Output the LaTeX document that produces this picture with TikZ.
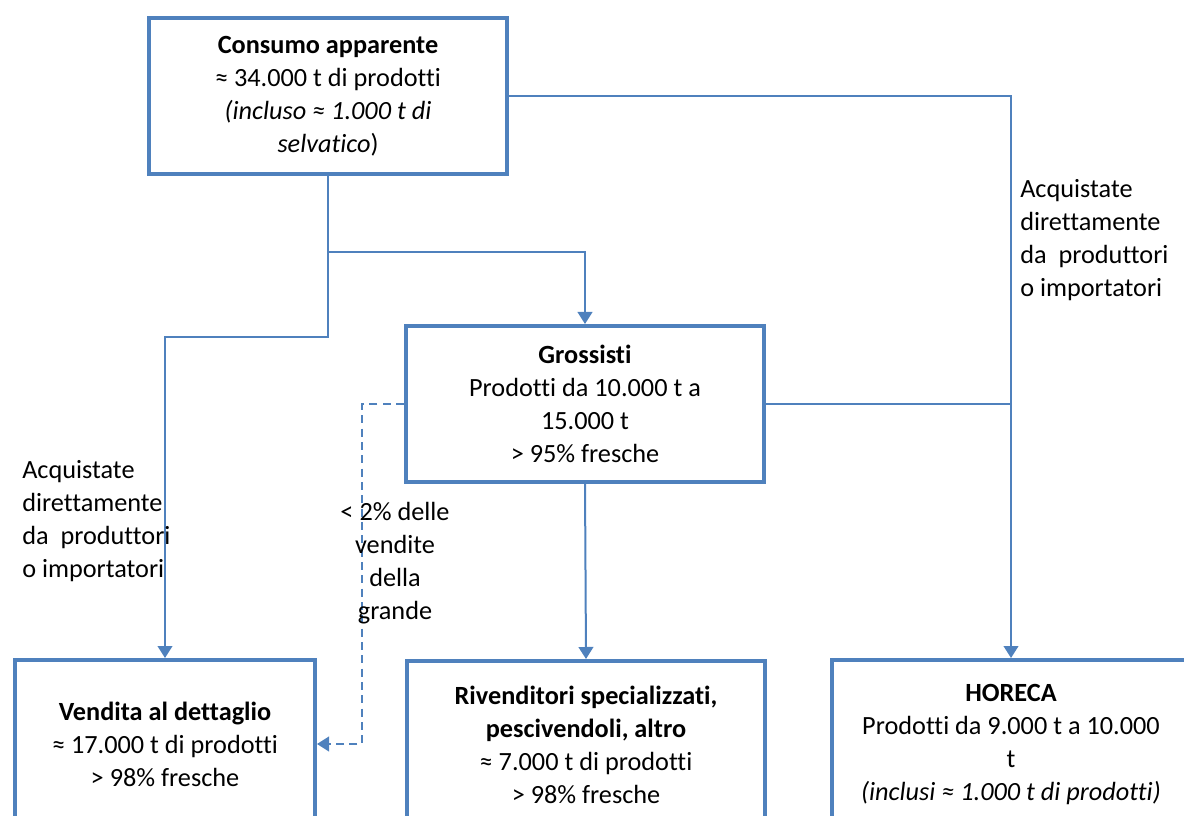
\documentclass[tikz,border=0pt]{standalone}
\usepackage{fontspec}
\setmainfont[Ligatures=NoCommon]{Carlito}
\usetikzlibrary{arrows.meta}
\definecolor{lineColor}{RGB}{79,129,189}
\begin{document}
\begin{tikzpicture}[x=0.75pt,y=-0.75pt,
  font=\fontsize{19.7}{24.75}\selectfont,
  flowbox/.style={draw=lineColor,line width=3pt,fill=white,align=center,inner sep=0pt,
    minimum width=268.5pt},
  link/.style={draw=lineColor,line width=1.5pt},
  arrowlink/.style={link,-{Triangle[length=9pt,width=11pt]}},
  dashlink/.style={arrowlink,dash pattern=on 6pt off 4pt},
  note/.style={align=left,inner sep=0pt,anchor=west}]
\useasboundingbox (0,0) rectangle (1184,816);
\clip (0,0) rectangle (1184,816);

\node[flowbox,minimum height=117pt] (cons) at (328,96) {\textbf{Consumo apparente}\\ ≈ 34.000 t di prodotti\\ \textit{(incluso ≈ 1.000 t di}\\ \textit{selvatico})};

\node[flowbox,minimum height=117pt] (gros) at (585,404) {\textbf{Grossisti}\\ Prodotti da 10.000 t a\\ 15.000 t\\ > 95\% fresche};

\node[flowbox,minimum width=225pt,minimum height=126pt] (vend) at (165,744) {\textbf{Vendita al dettaglio}\\ ≈ 17.000 t di prodotti\\ > 98\% fresche};

\node[flowbox,minimum height=126pt] (riv) at (586,745) {\textbf{Rivenditori specializzati,}\\ \textbf{pescivendoli, altro}\\ ≈ 7.000 t di prodotti\\ > 98\% fresche};

\node[flowbox,minimum height=126pt] (hore) at (1011,744) {\textbf{HORECA}\\ Prodotti da 9.000 t a 10.000\\ t\\ \textit{(inclusi ≈ 1.000 t di prodotti)}};

\coordinate (turn) at (328,337);
\coordinate (fork) at (328,252);
\coordinate (side) at (362,404);

\draw[arrowlink] (cons.south) -- (turn) -| (vend.north);
\draw[arrowlink] (fork) -| (gros.north);
\draw[arrowlink] (cons.east) -| (hore.north);
\draw[link] (gros.east) -- (gros.east -| hore.north);
\draw[arrowlink] (gros.south) -- (riv.north);
\draw[dashlink] (gros.west) -- (side) |- (vend.east);

\node[note] (rightnote) at (1020,240) {Acquistate\\ direttamente\\ da\ \ produttori\\ o importatori};
\node[note] (leftnote) at (22,521) {Acquistate\\ direttamente\\ da\ \ produttori\\ o importatori};
\node[align=center,inner sep=0pt] (share) at (395,563) {< 2\% delle\\ vendite\\ della\\ grande};
\end{tikzpicture}
\end{document}
